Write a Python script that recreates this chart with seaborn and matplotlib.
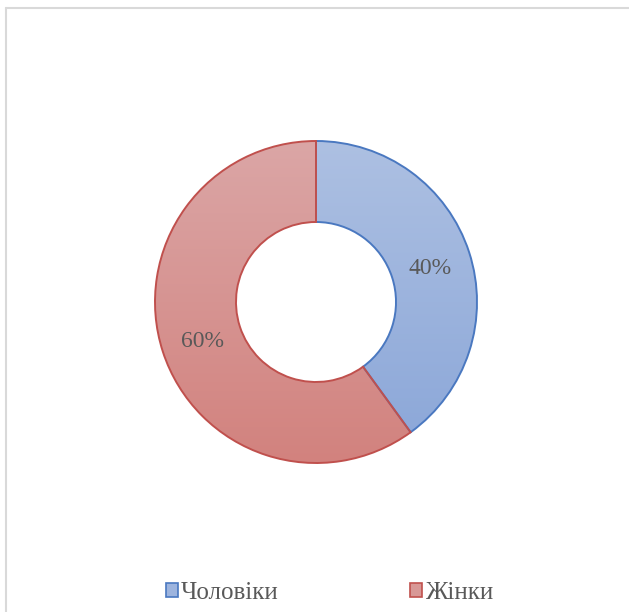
import numpy as np
import matplotlib
matplotlib.use("Agg")
import matplotlib.pyplot as plt
import seaborn as sns
from matplotlib.colors import LinearSegmentedColormap
from matplotlib.patches import Rectangle

categories = ["Чоловіки", "Жінки"]
values = [40, 60]
labels = ["40%", "60%"]

edge_colors = ["#4a78c0", "#c0504d"]
grad_top = ["#adc0e2", "#dba6a6"]
grad_bot = ["#8aa6d8", "#d2827e"]
legend_fill = ["#9db4de", "#d89896"]

sns.set_theme(style="white")
plt.rcParams['font.family'] = ['Liberation Serif', 'DejaVu Serif']

W, H = 629, 612
fig = plt.figure(figsize=(W / 100, H / 100), dpi=100)
ax = fig.add_axes([0, 0, 1, 1])

cx, cy = 316, H - 302
R_out, R_in = 161, 80

wedges, texts = ax.pie(
    values, startangle=90, counterclock=False, center=(cx, cy), radius=R_out,
    wedgeprops=dict(width=R_out - R_in, linewidth=1.4, facecolor="none"),
    labels=labels, labeldistance=(R_out * 0.5 + R_in * 0.5 - 1) / R_out,
    textprops=dict(fontsize=17, color="#595959"), frame=True,
)
for t in texts:
    t.set_horizontalalignment("center")
    t.set_verticalalignment("center")
    x, y = t.get_position()
    t.set_position((x, y - 3))
ax.set_xlim(0, W)
ax.set_ylim(0, H)
ax.set_aspect('equal')
ax.axis('off')

# chart frame (top and left edges visible)
ax.plot([5.5, W + 10], [H - 7.5, H - 7.5], color="#d9d9d9", lw=1.5, zorder=1)
ax.plot([5.5, 5.5], [H - 7.5, -10], color="#d9d9d9", lw=1.5, zorder=1)

for w, ec in zip(wedges, edge_colors):
    w.set_edgecolor(ec)
    w.set_zorder(3)

grad = np.linspace(0, 1, 256).reshape(-1, 1)
for i, w in enumerate(wedges):
    cmap = LinearSegmentedColormap.from_list("g%d" % i, [grad_top[i], grad_bot[i]])
    im = ax.imshow(grad, cmap=cmap, origin='upper',
                   extent=[cx - R_out, cx + R_out, cy - R_out, cy + R_out],
                   aspect='auto', zorder=2, interpolation='bilinear')
    im.set_clip_path(w)
ax.set_xlim(0, W)
ax.set_ylim(0, H)

# legend
handles = [Rectangle((0, 0), 1, 1, facecolor=legend_fill[i], edgecolor=edge_colors[i], lw=1.2)
           for i in range(len(categories))]
leg = fig.legend(handles, categories, loc="center", bbox_to_anchor=(0.5235, 1 - 593 / H),
                 ncol=2, frameon=False, fontsize=18, handlelength=0.5, handleheight=0.5,
                 handletextpad=0.1, columnspacing=5.25, labelcolor="#595959")

fig.savefig("out.png", dpi=100)
